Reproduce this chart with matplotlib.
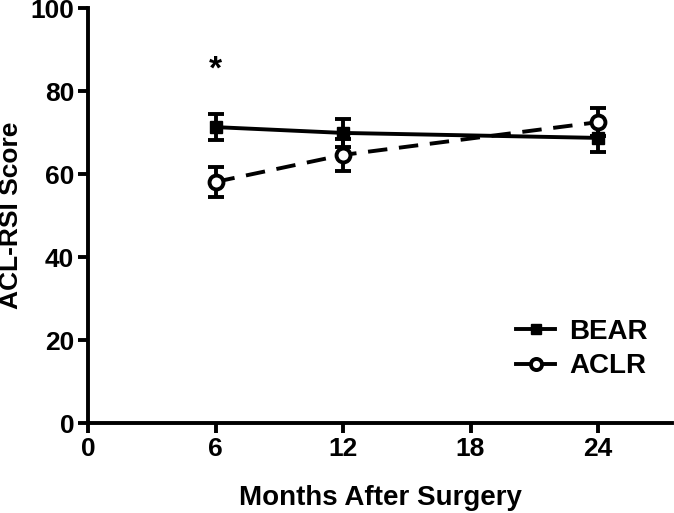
import numpy as np
import matplotlib
matplotlib.use("Agg")
from matplotlib import pyplot as plt
from matplotlib.lines import Line2D

months = [6, 12, 24]
bear_mean = [71.3, 69.9, 68.7]
bear_err = [3.1, 3.3, 3.5]
aclr_mean = [58.1, 64.6, 72.5]
aclr_err = [3.6, 3.8, 3.4]
x_ticks = [0, 6, 12, 18, 24]
y_ticks = [0, 20, 40, 60, 80, 100]

plt.rcParams['font.family'] = ['Liberation Sans', 'DejaVu Sans']
plt.rcParams['font.weight'] = 'bold'

fig = plt.figure(figsize=(6.74, 5.13), dpi=100)
ax = fig.add_axes([0.1306, 0.1754, 0.867, 0.809])

lw = 2.8
ax.errorbar(months, bear_mean, yerr=bear_err, color='black', lw=lw, marker='s',
            ms=9, capsize=6, capthick=lw, elinewidth=lw)
ax.errorbar(months, aclr_mean, yerr=aclr_err, color='black', lw=lw, ls=(0, (5, 3)),
            marker='o', ms=10, mfc='white', mew=lw, capsize=6, capthick=lw,
            elinewidth=lw)

ax.text(6, 85, '*', ha='center', va='center', fontsize=24, fontweight='bold')

ax.set_xlim(0, 27.5)
ax.set_ylim(0, 100)
ax.set_xticks(x_ticks)
ax.set_yticks(y_ticks)
for s in ['top', 'right']:
    ax.spines[s].set_visible(False)
for s in ['left', 'bottom']:
    ax.spines[s].set_linewidth(2.8)
ax.tick_params(width=2.8, length=7, labelsize=19, pad=3)
ax.set_xlabel('Months After Surgery', fontsize=20, fontweight='bold', labelpad=17)
ax.set_ylabel('ACL-RSI Score', fontsize=19, fontweight='bold', labelpad=5)

handles = [Line2D([], [], color='black', lw=lw, marker='s', ms=7),
           Line2D([], [], color='black', lw=lw, marker='o', ms=8, mfc='white', mew=lw)]
ax.legend(handles, ['BEAR', 'ACLR'], loc='lower right', bbox_to_anchor=(1.0, 0.045),
          frameon=False, fontsize=20, handlelength=1.4, handletextpad=0.5,
          labelspacing=0.3)

fig.savefig('out.png', dpi=100)
